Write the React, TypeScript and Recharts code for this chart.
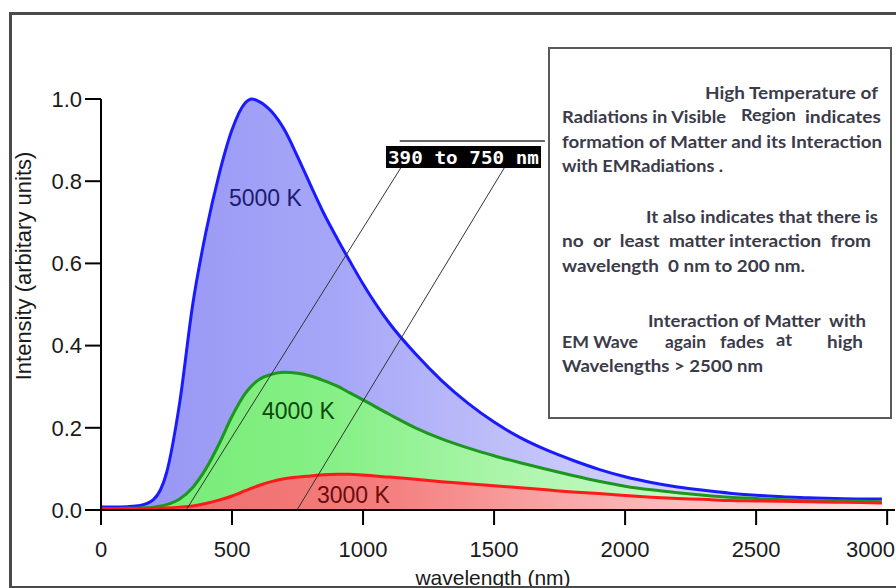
import {
  Area,
  ComposedChart,
  ReferenceLine,
  XAxis,
  YAxis,
} from 'recharts'

// wavelength grid (nm) and intensities
const WAVELENGTHS = [
  0, 50, 100, 150, 200, 250, 300, 350, 400, 450, 500, 550, 575, 600, 650, 700, 750, 800, 850, 900,
  950, 1000, 1100, 1200, 1300, 1400, 1500, 1600, 1700, 1800, 1900, 2000, 2100, 2200, 2300, 2400,
  2500, 2600, 2700, 2800, 2900, 2980,
]
const I_5000K = [
  0.007, 0.007, 0.008, 0.011, 0.025, 0.09, 0.26, 0.5, 0.675, 0.815, 0.925, 0.99, 1.0, 0.995,
  0.97, 0.925, 0.86, 0.79, 0.722, 0.662, 0.605, 0.55, 0.455, 0.38, 0.315, 0.26, 0.214, 0.176,
  0.146, 0.121, 0.099, 0.081, 0.067, 0.056, 0.048, 0.041, 0.036, 0.032, 0.03, 0.028, 0.027,
  0.027,
]
const I_4000K = [
  0.003, 0.003, 0.004, 0.005, 0.007, 0.013, 0.027, 0.055, 0.1, 0.16, 0.228, 0.283, 0.302, 0.316,
  0.33, 0.335, 0.333, 0.326, 0.315, 0.302, 0.285, 0.268, 0.233, 0.2, 0.173, 0.151, 0.132, 0.115,
  0.099, 0.084, 0.07, 0.058, 0.049, 0.042, 0.036, 0.031, 0.028, 0.025, 0.023, 0.022, 0.021, 0.02,
]
const I_3000K = [
  0.002, 0.002, 0.003, 0.003, 0.004, 0.005, 0.007, 0.01, 0.016, 0.024, 0.034, 0.047, 0.053,
  0.059, 0.069, 0.076, 0.08, 0.083, 0.086, 0.087, 0.087, 0.085, 0.08, 0.075, 0.069, 0.064, 0.059,
  0.054, 0.049, 0.044, 0.04, 0.035, 0.031, 0.028, 0.026, 0.023, 0.022, 0.021, 0.02, 0.019, 0.018,
  0.017,
]

const X_TICKS = [0, 500, 1000, 1500, 2000, 2500, 3000]
const Y_TICKS = [0, 0.2, 0.4, 0.6, 0.8, 1.0]

// annotation segments, in data units (nm, intensity)
const VISIBLE_LINE_LOW = [{ x: 325, y: 0 }, { x: 1174, y: 0.863 }]
const VISIBLE_LINE_HIGH = [{ x: 748, y: 0 }, { x: 1568, y: 0.863 }]
const LABEL_RULE = [{ x: 1140, y: 0.898 }, { x: 1694, y: 0.898 }]

const NOTE_LINES: { text: string; x: number; y: number; len: number }[] = [
  { text: 'High Temperature of', x: 705, y: 99, len: 173 },
  { text: 'Radiations in Visible', x: 562, y: 123, len: 164 },
  { text: 'Region', x: 741, y: 121, len: 55 },
  { text: 'indicates', x: 805, y: 123, len: 76 },
  { text: 'formation of Matter and its Interaction', x: 562, y: 148, len: 320 },
  { text: 'with EMRadiations .', x: 562, y: 172, len: 161 },
  { text: 'It also indicates that there is', x: 646, y: 223, len: 232 },
  { text: 'no  or  least  matter interaction  from', x: 562, y: 247, len: 309 },
  { text: 'wavelength  0 nm to 200 nm.', x: 562, y: 272, len: 243 },
  { text: 'Interaction of Matter  with', x: 648, y: 327, len: 218 },
  { text: 'EM Wave', x: 562, y: 348, len: 76 },
  { text: 'again', x: 665, y: 348, len: 41 },
  { text: 'fades', x: 720, y: 348, len: 44 },
  { text: 'at', x: 776, y: 346, len: 16 },
  { text: 'high', x: 827, y: 348, len: 36 },
  { text: 'Wavelengths > 2500 nm', x: 562, y: 372, len: 201 },
]

const AXIS_FONT = '"Liberation Sans", Arial, Helvetica, sans-serif'
const FRAME = '#4a4a4a'

const rows = WAVELENGTHS.map((wl, i) => ({
  wl,
  k5000: I_5000K[i],
  k4000: I_4000K[i],
  k3000: I_3000K[i],
}))

const tick = { fill: '#1a1a1a', fontSize: 22, fontFamily: AXIS_FONT }

// last x label sits flush against the right edge, as in the picture
function XTick(props: any) {
  const { x, y, payload } = props
  const last = payload.value === X_TICKS[X_TICKS.length - 1]
  return (
    <text
      x={last ? 895 : x}
      y={y}
      dy="0.71em"
      textAnchor={last ? 'end' : 'middle'}
      fill="#1a1a1a"
      fontSize={22}
      fontFamily={AXIS_FONT}
    >
      {payload.value}
    </text>
  )
}

export default function App() {
  return (
    <div
      style={{
        position: 'absolute',
        left: 0,
        top: 0,
        width: 896,
        height: 588,
        overflow: 'hidden',
        background: '#fff',
      }}
    >
      <ComposedChart
        width={896}
        height={588}
        data={rows}
        margin={{ top: 99, right: 1, bottom: 0, left: 0 }}
      >
        <defs>
          <linearGradient id="fill5000" x1="0" y1="0" x2="1" y2="0">
            <stop offset="0%" stopColor="#9494f4" />
            <stop offset="30%" stopColor="#a6a6f8" />
            <stop offset="60%" stopColor="#c8c8fa" />
            <stop offset="100%" stopColor="#ececfe" />
          </linearGradient>
          <linearGradient id="fill4000" x1="0" y1="0" x2="1" y2="0">
            <stop offset="0%" stopColor="#72ea72" />
            <stop offset="30%" stopColor="#86f086" />
            <stop offset="55%" stopColor="#b0f6b0" />
            <stop offset="100%" stopColor="#e6fde6" />
          </linearGradient>
          <linearGradient id="fill3000" x1="0" y1="0" x2="1" y2="0">
            <stop offset="0%" stopColor="#ee6a6a" />
            <stop offset="35%" stopColor="#f47c7c" />
            <stop offset="60%" stopColor="#f9a8a8" />
            <stop offset="100%" stopColor="#fee6e6" />
          </linearGradient>
        </defs>
        <XAxis
          type="number"
          dataKey="wl"
          domain={[0, 3030]}
          ticks={X_TICKS}
          interval={0}
          height={78}
          tick={<XTick />}
          tickSize={15}
          tickMargin={16}
          axisLine={{ stroke: '#000', strokeWidth: 2 }}
          tickLine={{ stroke: '#000', strokeWidth: 2 }}
        />
        <YAxis
          type="number"
          domain={[0, 1]}
          ticks={Y_TICKS}
          interval={0}
          width={101}
          tick={tick}
          tickSize={16}
          tickMargin={3}
          tickFormatter={(v: number) => v.toFixed(1)}
          axisLine={{ stroke: '#000', strokeWidth: 2 }}
          tickLine={{ stroke: '#000', strokeWidth: 2 }}
        />
        <Area
          type="monotone"
          dataKey="k5000"
          stroke="#1a1aff"
          strokeWidth={3}
          fill="url(#fill5000)"
          fillOpacity={1}
          dot={false}
          activeDot={false}
          isAnimationActive={false}
        />
        <Area
          type="monotone"
          dataKey="k4000"
          stroke="#1c961c"
          strokeWidth={3}
          fill="url(#fill4000)"
          fillOpacity={1}
          dot={false}
          activeDot={false}
          isAnimationActive={false}
        />
        <Area
          type="monotone"
          dataKey="k3000"
          stroke="#ff1a1a"
          strokeWidth={3}
          fill="url(#fill3000)"
          fillOpacity={1}
          dot={false}
          activeDot={false}
          isAnimationActive={false}
        />
        <ReferenceLine segment={VISIBLE_LINE_LOW} stroke="#333" strokeWidth={1} />
        <ReferenceLine segment={VISIBLE_LINE_HIGH} stroke="#333" strokeWidth={1} />
        <ReferenceLine segment={LABEL_RULE} stroke="#333" strokeWidth={1.5} />
      </ComposedChart>

      <svg
        width={896}
        height={588}
        style={{ position: 'absolute', left: 0, top: 0, pointerEvents: 'none' }}
      >
        {/* axis titles */}
        <text
          transform="translate(31,266) rotate(-90)"
          textAnchor="middle"
          fontFamily={AXIS_FONT}
          fontSize={22}
          fill="#1a1a1a"
        >
          Intensity (arbitary units)
        </text>
        <text x={493} y={585} textAnchor="middle" fontFamily={AXIS_FONT} fontSize={21} fill="#1a1a1a">
          wavelength (nm)
        </text>

        {/* curve labels */}
        <text x={229} y={206} fontFamily={AXIS_FONT} fontSize={23} fill="#1c1c6e">
          5000 K
        </text>
        <text x={262} y={419} fontFamily={AXIS_FONT} fontSize={23} fill="#0c4a0c">
          4000 K
        </text>
        <text x={317} y={503} fontFamily={AXIS_FONT} fontSize={23} fill="#6a0c0c">
          3000 K
        </text>

        {/* visible band label */}
        <rect x={386} y={146} width={155} height={22} fill="#000" />
        <text
          x={388}
          y={164}
          textLength={151}
          lengthAdjust="spacingAndGlyphs"
          fontFamily='"DejaVu Sans Mono", monospace'
          fontWeight="bold"
          fontSize={18}
          fill="#fff"
        >
          390 to 750 nm
        </text>

        {/* note box */}
        <rect x={549} y={48} width={342} height={370} fill="#fff" stroke="#5a5a5a" strokeWidth={2} />
        {NOTE_LINES.map((l) => (
          <text
            key={l.text}
            x={l.x}
            y={l.y}
            textLength={l.len}
            lengthAdjust="spacingAndGlyphs"
            fontFamily="Lato, 'Open Sans', sans-serif"
            fontWeight="bold"
            fontSize={17}
            fill="#3b3b4a"
            style={{ whiteSpace: 'pre' }}
          >
            {l.text}
          </text>
        ))}

        {/* outer frame */}
        <path d="M10.5 600 L10.5 13.5 L900 13.5" fill="none" stroke={FRAME} strokeWidth={3} />
        <line x1={10} y1={587} x2={900} y2={587} stroke={FRAME} strokeWidth={2} />
      </svg>
    </div>
  )
}
